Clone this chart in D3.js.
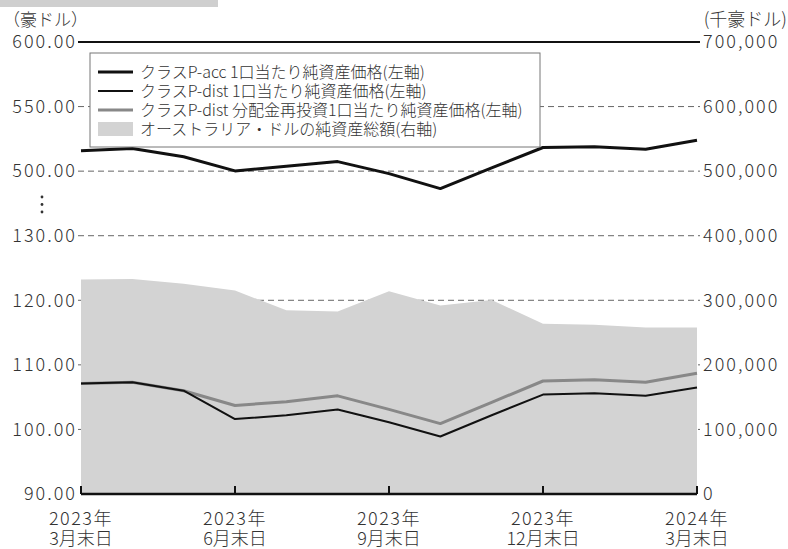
<!DOCTYPE html>
<html>
<head>
<meta charset="utf-8">
<script src="https://cdn.jsdelivr.net/npm/d3@7"></script>
<style>
  body { margin: 0; background: #fff; }
  svg text { font-family: "Noto Sans CJK JP", "Noto Sans", sans-serif; font-weight: 300; fill: #333; }
  .tick text { font-size: 18px; letter-spacing: 2px; }
</style>
</head>
<body>
<svg class="chart"></svg>
<script>
// month ends, March 2023 .. March 2024
var months = ["2023-03","2023-04","2023-05","2023-06","2023-07","2023-08","2023-09",
              "2023-10","2023-11","2023-12","2024-01","2024-02","2024-03"];
var xTickMonths = ["2023-03","2023-06","2023-09","2023-12","2024-03"];
var xTickYears  = ["2023年","2023年","2023年","2023年","2024年"];
var xTickDays   = ["3月末日","6月末日","9月末日","12月末日","3月末日"];

// NAV per unit (AUD) - left axis
var accNav     = [515.7,517.5,511.1,500.2,503.8,507.4,498.1,486.5,502.6,518.3,518.8,517.0,523.9];
var distNav    = [107.1,107.3,106.0,101.6,102.2,103.1,101.1,98.9,102.2,105.4,105.6,105.2,106.5];
var distReinv  = [107.1,107.3,106.0,103.7,104.3,105.2,103.1,100.9,104.2,107.5,107.7,107.3,108.7];
// total net assets (thousand AUD) - right axis
var netAssets  = [332000,333000,325700,315000,284600,282500,314000,292000,300400,263600,262000,258000,258000];

var leftLowTicks  = [90,100,110,120,130];
var leftHighTicks = [500,550,600];
var rightTicks    = [0,100000,200000,300000,400000,500000,600000,700000];

var legendItems = [
  {label: "クラスP-acc 1口当たり純資産価格(左軸)", type: "line", color: "#111", w: 3},
  {label: "クラスP-dist 1口当たり純資産価格(左軸)", type: "line", color: "#111", w: 2},
  {label: "クラスP-dist 分配金再投資1口当たり純資産価格(左軸)", type: "line", color: "#888", w: 3},
  {label: "オーストラリア・ドルの純資産総額(右軸)", type: "rect", color: "#d3d3d3"}
];

var width = 788, height = 549;
var m = {left: 81, right: 697, top: 42, bottom: 494};
var band = (m.bottom - m.top) / 7;

var svg = d3.select(".chart").attr("width", width).attr("height", height);

var x = d3.scalePoint().domain(months).range([m.left, m.right]);
var yRight = d3.scaleLinear().domain([0, 700000]).range([m.bottom, m.top]);
// broken left axis: 90-130 on the lower part, 500-600 on the upper part
var yLow  = d3.scaleLinear().domain([90, 130]).range([m.bottom, m.bottom - 4 * band]);
var yHigh = d3.scaleLinear().domain([500, 600]).range([m.top + 2 * band, m.top]);
function yLeft(v) { return v >= 300 ? yHigh(v) : yLow(v); }

// header strip
svg.append("rect").attr("x", 0).attr("y", 0).attr("width", 218).attr("height", 7).attr("fill", "#cfcfcf");

// dashed grid
svg.append("g").selectAll("line")
  .data(rightTicks.slice(1, -1))
  .enter().append("line")
  .attr("x1", m.left - 3).attr("x2", m.right + 3)
  .attr("y1", function(d) { return yRight(d); })
  .attr("y2", function(d) { return yRight(d); })
  .attr("stroke", "#666").attr("stroke-width", 1)
  .attr("stroke-dasharray", "6,4");

// net assets area
var area = d3.area()
  .x(function(d, i) { return x(months[i]); })
  .y0(m.bottom)
  .y1(function(d) { return yRight(d); });
svg.append("path").datum(netAssets).attr("d", area).attr("fill", "#d3d3d3");

// NAV lines
var line = d3.line()
  .x(function(d, i) { return x(months[i]); })
  .y(function(d) { return yLeft(d); });
svg.append("path").datum(distReinv).attr("d", line)
  .attr("fill", "none").attr("stroke", "#888").attr("stroke-width", 3).attr("stroke-linejoin", "round");
svg.append("path").datum(distNav).attr("d", line)
  .attr("fill", "none").attr("stroke", "#111").attr("stroke-width", 2).attr("stroke-linejoin", "round");
svg.append("path").datum(accNav).attr("d", line)
  .attr("fill", "none").attr("stroke", "#111").attr("stroke-width", 3).attr("stroke-linejoin", "round");

// top border
svg.append("line").attr("x1", m.left - 3).attr("x2", m.right + 3)
  .attr("y1", m.top).attr("y2", m.top).attr("stroke", "#111").attr("stroke-width", 2);

// legend
var legend = svg.append("g").attr("transform", "translate(90,53)");
legend.append("rect").attr("width", 450).attr("height", 94)
  .attr("fill", "#fff").attr("stroke", "#777").attr("stroke-width", 1);
var li = legend.selectAll(".li").data(legendItems).enter().append("g")
  .attr("transform", function(d, i) { return "translate(0," + (19 + i * 19) + ")"; });
li.filter(function(d) { return d.type === "line"; }).append("line")
  .attr("x1", 8).attr("x2", 43).attr("y1", 0).attr("y2", 0)
  .attr("stroke", function(d) { return d.color; })
  .attr("stroke-width", function(d) { return d.w; });
li.filter(function(d) { return d.type === "rect"; }).append("rect")
  .attr("x", 8).attr("y", -7).attr("width", 35).attr("height", 14)
  .attr("fill", function(d) { return d.color; });
li.append("text").attr("x", 50).attr("dy", "0.36em")
  .style("font-size", "16px")
  .text(function(d) { return d.label; });

// left axis
var fmt2 = d3.format(".2f");
svg.append("g").attr("transform", "translate(" + (m.left - 4) + ",0)")
  .call(d3.axisLeft(yLow).tickValues(leftLowTicks).tickSize(0).tickPadding(0).tickFormat(fmt2))
  .call(function(g) { g.select(".domain").remove(); });
svg.append("g").attr("transform", "translate(" + (m.left - 4) + ",0)")
  .call(d3.axisLeft(yHigh).tickValues(leftHighTicks).tickSize(0).tickPadding(0).tickFormat(fmt2))
  .call(function(g) { g.select(".domain").remove(); });

// break marks between 130 and 500
svg.append("g").selectAll("circle").data([0, 1, 2]).enter().append("circle")
  .attr("cx", 42).attr("cy", function(d) { return 197 + d * 7.5; })
  .attr("r", 1.4).attr("fill", "#333");

// right axis
svg.append("g").attr("transform", "translate(" + (m.right + 4) + ",0)")
  .call(d3.axisRight(yRight).tickValues(rightTicks).tickSize(0).tickPadding(2).tickFormat(d3.format(",")))
  .call(function(g) { g.select(".domain").remove(); });

// bottom axis
svg.append("line").attr("x1", m.left).attr("x2", m.right)
  .attr("y1", m.bottom).attr("y2", m.bottom).attr("stroke", "#111").attr("stroke-width", 2.5);
var xt = svg.append("g").selectAll("g").data(xTickMonths).enter().append("g")
  .attr("transform", function(d) { return "translate(" + x(d) + "," + m.bottom + ")"; });
xt.append("line").attr("y1", 0).attr("y2", -8).attr("stroke", "#111").attr("stroke-width", 2);
xt.append("text").attr("y", 31).attr("text-anchor", "middle")
  .style("font-size", "18px").style("letter-spacing", "1.5px")
  .text(function(d, i) { return xTickYears[i]; });
xt.append("text").attr("y", 51).attr("text-anchor", "middle")
  .style("font-size", "18px")
  .text(function(d, i) { return xTickDays[i]; });

// unit labels
svg.append("text").attr("x", 3).attr("y", 26).style("font-size", "17px").text("（豪ドル）");
svg.append("text").attr("x", 787).attr("y", 26).attr("text-anchor", "end")
  .style("font-size", "18px").text("(千豪ドル)");
</script>
</body>
</html>
